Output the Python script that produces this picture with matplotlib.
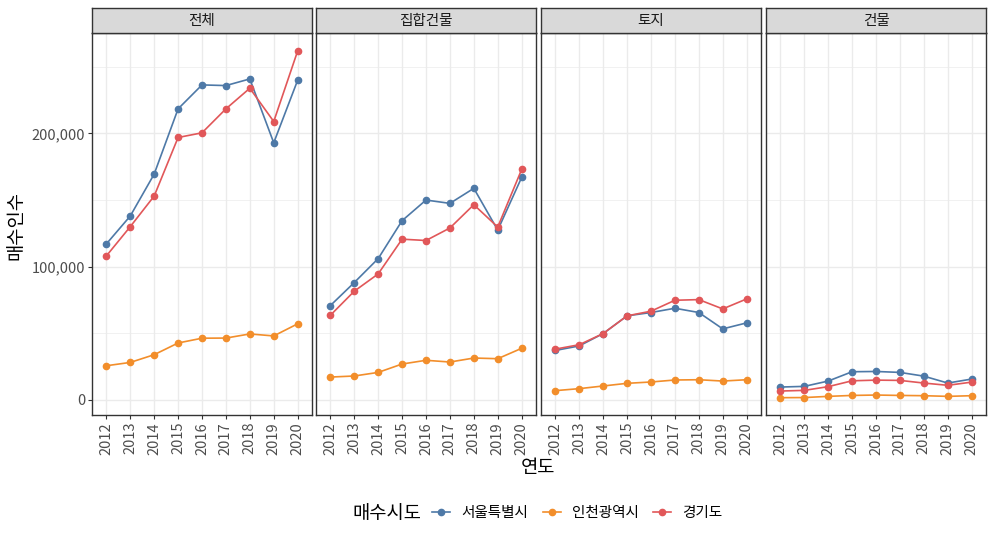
import matplotlib
matplotlib.use("Agg")
import matplotlib.pyplot as plt
from matplotlib.lines import Line2D
from matplotlib.ticker import FuncFormatter

plt.rcParams['font.family'] = ['Noto Sans CJK KR', 'DejaVu Sans']

years = ['2012', '2013', '2014', '2015', '2016', '2017', '2018', '2019', '2020']
panels = ['전체', '집합건물', '토지', '건물']
regions = ['서울특별시', '인천광역시', '경기도']
colors = {'서울특별시': '#4E79A7', '인천광역시': '#F28E2B', '경기도': '#E15759'}

total_seoul = [117000, 138000, 169500, 218500, 236500, 236000, 241000, 193000, 240000]
total_incheon = [25500, 28000, 33800, 42600, 46200, 46300, 49400, 47900, 57000]
total_gyeonggi = [108000, 130000, 153000, 197000, 200500, 218500, 234000, 209000, 262000]

apt_seoul = [70700, 88000, 106000, 134500, 150000, 147500, 158800, 127400, 167000]
apt_incheon = [17000, 17800, 20500, 26800, 29600, 28300, 31300, 30800, 38600]
apt_gyeonggi = [63400, 81500, 94500, 120600, 119600, 129000, 146500, 129700, 173000]

land_seoul = [37000, 40400, 49700, 63000, 65500, 68700, 65500, 53200, 57700]
land_incheon = [6800, 8300, 10300, 12300, 13300, 14800, 15000, 14000, 15000]
land_gyeonggi = [38000, 41300, 49700, 63000, 66500, 74700, 75200, 68200, 75700]

bld_seoul = [9500, 10000, 14000, 21000, 21200, 20500, 17700, 12500, 15500]
bld_incheon = [1500, 1600, 2500, 3200, 3500, 3200, 3000, 2500, 3000]
bld_gyeonggi = [6500, 7000, 9800, 14200, 14700, 14500, 12500, 10800, 13200]

data = {
    '전체': {'서울특별시': total_seoul, '인천광역시': total_incheon, '경기도': total_gyeonggi},
    '집합건물': {'서울특별시': apt_seoul, '인천광역시': apt_incheon, '경기도': apt_gyeonggi},
    '토지': {'서울특별시': land_seoul, '인천광역시': land_incheon, '경기도': land_gyeonggi},
    '건물': {'서울특별시': bld_seoul, '인천광역시': bld_incheon, '경기도': bld_gyeonggi},
}

W, H = 990, 540
fig = plt.figure(figsize=(W / 100, H / 100), dpi=100)

lefts = [92, 316, 541, 766]
pw = 220
ptop, pbot = 33, 415
stop = 8

ymin, ymax = -11500, 275500
border = '#333333'

for i, (p, lx) in enumerate(zip(panels, lefts)):
    ax = fig.add_axes([lx / W, 1 - pbot / H, pw / W, (pbot - ptop) / H])
    x = list(range(len(years)))
    for r in regions:
        ax.plot(x, data[p][r], color=colors[r], lw=1.2, marker='o', ms=4.5, zorder=3)
    ax.set_xlim(-0.6, len(years) - 1 + 0.6)
    ax.set_ylim(ymin, ymax)
    ax.set_xticks(x)
    ax.set_xticklabels(years, rotation=90, fontsize=10.5, color='#4D4D4D')
    ax.set_yticks([0, 100000, 200000])
    ax.set_yticks([50000, 150000, 250000], minor=True)
    ax.yaxis.set_major_formatter(FuncFormatter(lambda v, pos: f'{int(v):,}'))
    ax.tick_params(axis='both', which='major', length=3, color=border, labelsize=10.5, labelcolor='#4D4D4D', pad=2)
    ax.tick_params(axis='y', which='minor', length=0)
    if i > 0:
        ax.tick_params(axis='y', which='major', length=0, labelleft=False)
    ax.grid(True, which='major', color='#EBEBEB', lw=1.0)
    ax.grid(True, which='minor', axis='y', color='#EBEBEB', lw=0.5)
    ax.set_axisbelow(True)
    for s in ax.spines.values():
        s.set_color(border)
        s.set_linewidth(1.0)
    # strip
    sax = fig.add_axes([lx / W, 1 - ptop / H, pw / W, (ptop - stop) / H])
    sax.set_facecolor('#D9D9D9')
    sax.set_xticks([])
    sax.set_yticks([])
    for s in sax.spines.values():
        s.set_color(border)
        s.set_linewidth(1.0)
    sax.text(0.5, 0.5, p, ha='center', va='center', fontsize=10.5, color='#1A1A1A', transform=sax.transAxes)

fig.text(538 / W, 1 - 467 / H, '연도', ha='center', va='center', fontsize=13.5)
fig.text(16 / W, 1 - 225 / H, '매수인수', ha='center', va='center', rotation=90, fontsize=13.5)

fig.text(387 / W, 1 - 513 / H, '매수시도', ha='center', va='center', fontsize=13.5)
handles = [Line2D([0], [0], color=colors[r], lw=1.2, marker='o', ms=4.5) for r in regions]
fig.legend(handles, regions, loc='center left', bbox_to_anchor=(432 / W, 1 - 513 / H), ncol=3,
           frameon=False, fontsize=10.5, handlelength=1.25, handletextpad=0.75, columnspacing=1.0,
           borderpad=0, borderaxespad=0)

fig.savefig('out.png', dpi=100)
